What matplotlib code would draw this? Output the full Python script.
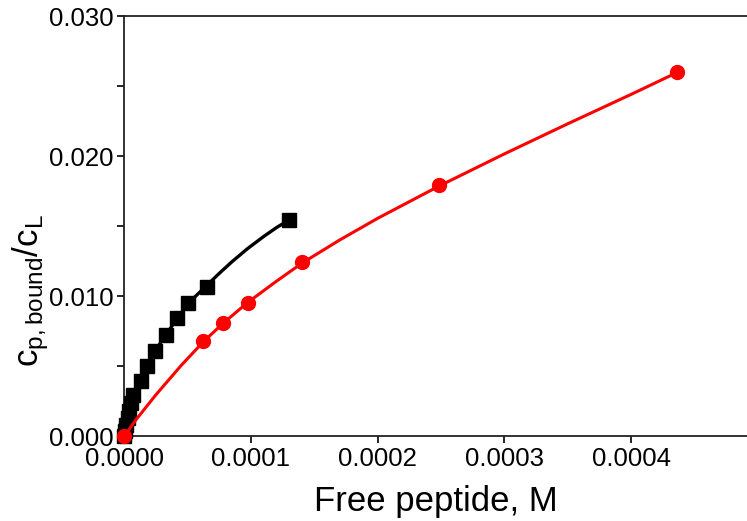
import numpy as np
from matplotlib import pyplot as plt
from matplotlib.ticker import FormatStrFormatter, MultipleLocator

plt.rcParams['font.family'] = ['Liberation Sans', 'DejaVu Sans']
plt.rcParams['mathtext.fontset'] = 'custom'
plt.rcParams['mathtext.rm'] = 'Liberation Sans'
plt.rcParams['mathtext.it'] = 'Liberation Sans'

#Measured points, free peptide [M] vs bound ratio
black_x = [0.0, 0.0000006, 0.0000017, 0.0000029, 0.0000041, 0.0000053, 0.0000071,
           0.0000129, 0.0000182, 0.0000242, 0.0000327, 0.0000418, 0.0000505,
           0.0000650, 0.0001300]
black_y = [0.0, 0.00036, 0.00079, 0.00129, 0.00179, 0.00236, 0.00293,
           0.00395, 0.00502, 0.00607, 0.00721, 0.00841, 0.00948,
           0.01067, 0.01543]
red_x = [0.0, 0.0000621, 0.0000779, 0.0000976, 0.0001403, 0.0002484, 0.0004360]
red_y = [0.0, 0.0068, 0.0081, 0.0095, 0.0124, 0.0179, 0.0260]

#Fitted curves
black_fit_x = [0.0, 0.0000017, 0.0000071, 0.0000129, 0.0000182, 0.0000242, 0.0000327,
               0.0000418, 0.0000505, 0.0000650, 0.0000750, 0.0000850, 0.0000975,
               0.0001100, 0.0001200, 0.0001300]
black_fit_y = [0.0, 0.0008, 0.00293, 0.00395, 0.00502, 0.00607, 0.00721,
               0.00841, 0.00948, 0.01075, 0.01162, 0.01245, 0.0134,
               0.01425, 0.01488, 0.01543]
red_fit_x = [0.0, 0.00001, 0.000025, 0.000045, 0.0000621, 0.0000779, 0.0000976,
             0.00012, 0.0001403, 0.00017, 0.0002, 0.0002484, 0.0003, 0.00035,
             0.0004, 0.000436]
red_fit_y = [0.0, 0.00125, 0.00295, 0.00505, 0.0067, 0.00805, 0.00955,
             0.01105, 0.01235, 0.0140, 0.01555, 0.01785, 0.02015, 0.0223,
             0.0244, 0.02595]

fig = plt.figure(figsize=(7.47, 5.21), dpi=100)
ax = fig.add_axes([124.3/747, 85/521, 622.7/747, 420/521])

ax.plot(black_fit_x, black_fit_y, color='black', lw=2.4, zorder=2)
ax.plot(black_x, black_y, 's', color='black', ms=9.5, clip_on=False, zorder=3)
ax.plot(red_fit_x, red_fit_y, color='#ff0000', lw=2.2, zorder=4)
ax.plot(red_x, red_y, 'o', color='#ff0000', ms=10, clip_on=False, zorder=5)

ax.set_xlim(0, 0.0004915)
ax.set_ylim(0, 0.030)
ax.xaxis.set_major_locator(MultipleLocator(0.0001))
ax.yaxis.set_major_locator(MultipleLocator(0.010))
ax.yaxis.set_minor_locator(MultipleLocator(0.005))
ax.xaxis.set_major_formatter(FormatStrFormatter('%.4f'))
ax.yaxis.set_major_formatter(FormatStrFormatter('%.3f'))
ax.tick_params(which='both', direction='out', length=5, width=1.2, labelsize=18.5, pad=3)
ax.spines['right'].set_visible(False)
for s in ['left', 'bottom', 'top']:
    ax.spines[s].set_linewidth(1.3)
    ax.spines[s].set_color('#222222')

ax.set_xlabel('Free peptide, M', fontsize=25, labelpad=10)
ax.set_ylabel(r'$\mathregular{c_{p,bound}/c_L}$', fontsize=25)
ax.yaxis.set_label_coords(-0.118, 0.345)

fig.savefig('out.png', dpi=100)
